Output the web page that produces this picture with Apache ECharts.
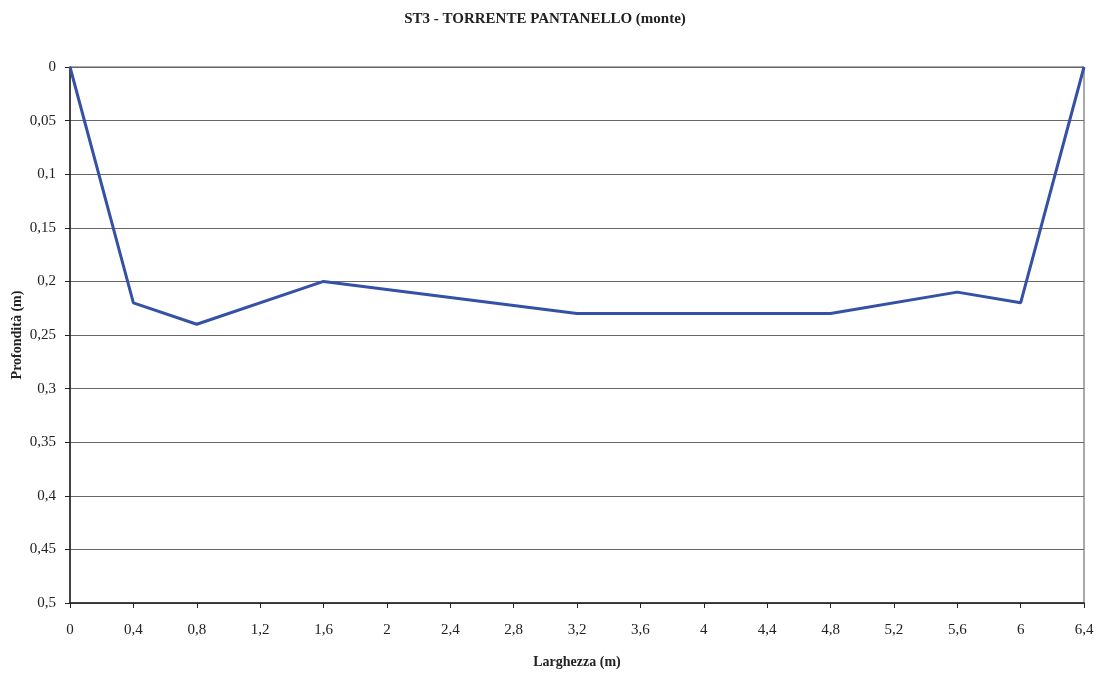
<!DOCTYPE html>
<html>
<head>
<meta charset="utf-8">
<script src="https://cdn.jsdelivr.net/npm/echarts@6/dist/echarts.min.js"></script>
<style>html,body{margin:0;padding:0;background:#fff}#c{width:1108px;height:673px}</style>
</head>
<body>
<div id="c"></div>
<script>
const larghezza = [0, 0.4, 0.8, 1.6, 3.2, 4.8, 5.6, 6.0, 6.4];
const profondita = [0, 0.22, 0.24, 0.2, 0.23, 0.23, 0.21, 0.22, 0];
const titleText = 'ST3 - TORRENTE PANTANELLO (monte)';
const xName = 'Larghezza (m)';
const yName = 'Profondità (m)';

const fmt = v => String(Math.round(v * 100) / 100).replace('.', ',');
const serif = '"Liberation Serif", "DejaVu Serif", serif';

const chart = echarts.init(document.getElementById('c'));
chart.setOption({
  animation: false,
  backgroundColor: '#fff',
  title: {
    text: titleText, left: 540, top: 7, textAlign: 'center',
    textStyle: { fontFamily: serif, fontSize: 15, fontWeight: 'bold', color: '#222' }
  },
  grid: { left: 70, right: 24, top: 67, bottom: 70, show: true, borderColor: '#555', borderWidth: 1, outerBoundsMode: 'none' },
  xAxis: {
    type: 'value', min: 0, max: 6.4, interval: 0.4,
    name: xName, nameLocation: 'middle', nameGap: 52,
    nameTextStyle: { fontFamily: serif, fontSize: 14, fontWeight: 'bold', color: '#222' },
    axisLine: { show: true, onZero: false, lineStyle: { color: '#222', width: 1.5 } },
    axisTick: { show: true, length: 5, lineStyle: { color: '#222' } },
    axisLabel: { formatter: fmt, fontFamily: serif, fontSize: 15, color: '#222', margin: 20 },
    splitLine: { show: false }
  },
  yAxis: {
    type: 'value', inverse: true, min: 0, max: 0.5, interval: 0.05,
    name: yName, nameLocation: 'middle', nameGap: 46, nameMoveOverlap: false,
    nameTextStyle: { fontFamily: serif, fontSize: 14, fontWeight: 'bold', color: '#222' },
    axisLine: { show: true, onZero: false, lineStyle: { color: '#222', width: 1.5 } },
    axisTick: { show: true, length: 5, lineStyle: { color: '#222' } },
    axisLabel: { formatter: fmt, fontFamily: serif, fontSize: 15, color: '#222', margin: 14 },
    splitLine: { show: true, lineStyle: { color: '#666', width: 1 } }
  },
  series: [{
    type: 'line',
    data: larghezza.map((x, i) => [x, profondita[i]]),
    showSymbol: false,
    lineStyle: { color: '#3551a5', width: 3 },
    itemStyle: { color: '#3551a5' }
  }]
});
</script>
</body>
</html>
